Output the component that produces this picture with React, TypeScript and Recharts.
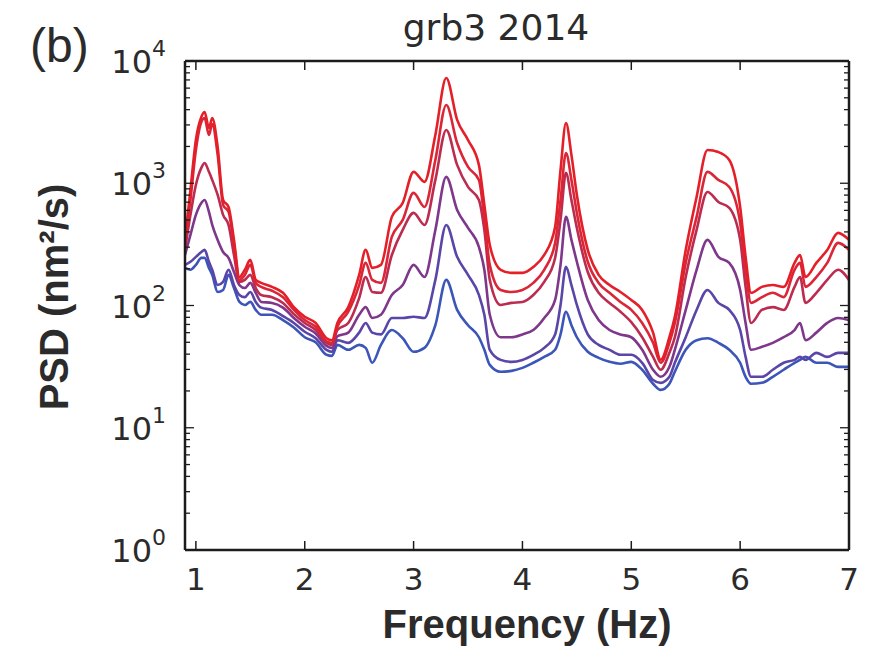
import { LineChart, Line, XAxis, YAxis } from 'recharts';

// frequency grid (Hz)
const freq = [
  0.9, 0.95, 1.0, 1.05, 1.08, 1.12, 1.15, 1.2, 1.25, 1.3, 1.35, 1.4, 1.45, 1.5, 1.55, 1.6, 1.7, 1.8, 1.9, 2.0,
  2.1, 2.2, 2.25, 2.3, 2.4, 2.5, 2.56, 2.62, 2.7, 2.8, 2.9, 3.0, 3.1, 3.2, 3.3, 3.4, 3.5, 3.6, 3.65, 3.7,
  3.8, 3.9, 4.0, 4.1, 4.2, 4.3, 4.35, 4.4, 4.45, 4.5, 4.6, 4.7, 4.8, 4.9, 5.0, 5.1, 5.2, 5.27, 5.35, 5.4,
  5.5, 5.6, 5.7, 5.8, 5.9, 6.0, 6.05, 6.1, 6.2, 6.3, 6.4, 6.5, 6.55, 6.6, 6.7, 6.8, 6.9, 7.0,
];

// PSD curves (nm²/s), top (red) to bottom (blue)
const psd1 = [
  344, 881, 2260, 3485, 3830, 2835, 3420, 1980, 730, 640, 344, 171, 196, 236, 162, 153, 142, 127, 97, 81,
  72, 54, 52, 72, 97, 178, 285, 203, 215, 531, 690, 1240, 1026, 2485, 7260, 3295, 2260, 1413, 665, 313,
  196, 185, 185, 207, 259, 439, 1285, 3115, 1705, 802, 285, 178, 147, 129, 111, 92, 60, 36, 55, 81,
  285, 773, 1870, 1800, 1550, 640, 250, 127, 142, 147, 142, 223, 259, 171, 223, 285, 393, 344,
];
const psd2 = [
  313, 730, 1870, 3170, 3420, 2485, 3055, 1705, 665, 583, 313, 162, 178, 215, 153, 142, 132, 117, 92, 76,
  67, 51, 49.5, 67, 89, 147, 223, 162, 153, 364, 501, 834, 640, 1550, 4365, 2135, 1360, 1065, 521, 215,
  134, 129, 134, 153, 196, 325, 730, 1770, 1065, 572, 228, 153, 127, 107, 92, 72, 49.5, 34, 49.5, 72,
  223, 531, 1240, 1065, 933, 474, 196, 105, 117, 127, 117, 196, 223, 142, 171, 223, 325, 285,
];
const psd3 = [
  285, 551, 969, 1335, 1465, 1240, 1065, 802, 551, 456, 259, 156, 162, 178, 139, 122, 117, 105, 85, 72,
  63, 49.5, 47.6, 63, 72, 115, 171, 129, 127, 259, 415, 572, 456, 1065, 2730, 1413, 933, 730, 415, 162,
  101, 105, 107, 122, 156, 245, 501, 1215, 730, 431, 188, 127, 105, 89, 73, 55, 38, 29.8, 41, 55,
  171, 415, 849, 703, 628, 344, 142, 72, 92, 97, 92, 142, 171, 105, 127, 162, 196, 162,
];
const psd4 = [
  259, 378, 551, 690, 730, 583, 456, 344, 274, 245, 188, 147, 139, 153, 127, 107, 105, 96, 79, 67,
  59, 46.8, 45, 56, 60, 84, 97, 79, 84, 122, 147, 215, 171, 415, 1127, 605, 431, 301, 196, 84,
  55, 55, 58, 63, 79, 111, 215, 531, 344, 228, 111, 76, 63, 58, 55, 43.4, 29.8, 26.1, 31.5, 43.4,
  92, 196, 344, 250, 223, 134, 72, 43.4, 45.9, 49.5, 55, 63, 72, 52, 60, 72, 79, 76,
];
const psd5 = [
  215, 228, 250, 274, 285, 228, 196, 147, 156, 196, 147, 122, 117, 129, 107, 96, 92, 82, 72, 61,
  54, 43.4, 41.8, 52, 49.5, 60, 72, 60, 58, 79, 79, 81, 79, 162, 456, 250, 178, 122, 84, 43.4,
  35.9, 34.6, 35.9, 39.5, 45, 58, 101, 207, 147, 101, 58, 47.6, 43.4, 39.5, 39.5, 34, 24.6, 23.3, 26.1, 34,
  55, 92, 134, 105, 92, 63, 38, 26.1, 26.1, 29.8, 34, 35.9, 38, 35.9, 41, 38, 41, 41,
];
const psd6 = [
  203, 196, 215, 245, 245, 203, 178, 129, 134, 178, 139, 107, 101, 107, 92, 84, 84, 76, 66, 55,
  50, 39.5, 38.7, 47.6, 43.4, 47.6, 45, 34, 47.6, 63, 54, 41.8, 45, 69, 162, 92, 69, 55, 43.4, 32.7,
  28.7, 29.2, 30.9, 34, 38, 43.4, 58, 89, 69, 55, 41.8, 37.3, 34.6, 33.4, 34.6, 29.8, 22.9, 20.4, 22.9, 28.7,
  43.4, 52, 54, 49.5, 43.4, 34, 26.1, 22.9, 23.3, 26.1, 29.8, 34, 35.9, 38, 34, 34, 31.5, 31.5,
];

const seriesKeys = ['s1', 's2', 's3', 's4', 's5', 's6'];
const seriesValues = [psd1, psd2, psd3, psd4, psd5, psd6];
const lineColors = ['#e41f27', '#da2637', '#bb2c50', '#7e378a', '#5a45a8', '#3b55b8'];

const xTicks = [1, 2, 3, 4, 5, 6, 7];
const yDecades = [1, 10, 100, 1000, 10000];
const yMinorSteps = [2, 3, 4, 5, 6, 7, 8, 9];
const yTicks = yDecades.flatMap((d, i) =>
  i < yDecades.length - 1 ? [d, ...yMinorSteps.map((m) => d * m)] : [d]
);

const title = 'grb3 2014';
const panelTag = '(b)';
const xLabel = 'Frequency (Hz)';
const yLabel = 'PSD (nm²/s)';

const rows = freq.map((f, i) => {
  const row: Record<string, number> = { f };
  seriesKeys.forEach((k, j) => {
    row[k] = seriesValues[j][i];
  });
  return row;
});

const AXIS = '#1c1c1c';
const TEXT = '#2b2b2b';
const TICK_FONT = '"DejaVu Sans", sans-serif';
const LABEL_FONT = '"Liberation Sans", Arial, sans-serif';

const isMajor = (v: number) => Math.abs(Math.log10(v) - Math.round(Math.log10(v))) < 1e-9;

function BottomTick({ x, y, payload }: any) {
  return (
    <g>
      <line x1={x} x2={x} y1={y} y2={y - 9} stroke={AXIS} strokeWidth={1.5} />
      <text x={x} y={y + 40} textAnchor="middle" fontSize={31} fill={TEXT} fontFamily={TICK_FONT}>
        {payload.value}
      </text>
    </g>
  );
}

function TopTick({ x, y }: any) {
  return <line x1={x} x2={x} y1={y} y2={y + 9} stroke={AXIS} strokeWidth={1.5} />;
}

function LeftTick({ x, y, payload }: any) {
  const major = isMajor(payload.value);
  return (
    <g>
      <line x1={x} x2={x + (major ? 9 : 5)} y1={y} y2={y} stroke={AXIS} strokeWidth={1.3} />
      {major && (
        <text x={x - 19} y={y + 12} textAnchor="end" fontSize={32} fill={TEXT} fontFamily={TICK_FONT}>
          10
          <tspan dy={-17} fontSize={22}>{Math.round(Math.log10(payload.value))}</tspan>
        </text>
      )}
    </g>
  );
}

function RightTick({ x, y, payload }: any) {
  const major = isMajor(payload.value);
  return <line x1={x} x2={x - (major ? 9 : 5)} y1={y} y2={y} stroke={AXIS} strokeWidth={1.3} />;
}

export default function App() {
  return (
    <div style={{ position: 'absolute', left: 0, top: 0, width: 876, height: 656, background: '#fff' }}>
      <LineChart width={876} height={656} data={rows} margin={{ top: 60, right: 26, bottom: 66, left: 105 }}>
        <XAxis
          dataKey="f"
          type="number"
          domain={[0.9, 7]}
          ticks={xTicks}
          interval={0}
          allowDataOverflow
          height={40}
          tickSize={0}
          tickMargin={0}
          tickLine={false}
          axisLine={{ stroke: AXIS, strokeWidth: 2.5 }}
          tick={(p: any) => <BottomTick {...p} />}
        />
        <XAxis
          xAxisId="top"
          orientation="top"
          dataKey="f"
          type="number"
          domain={[0.9, 7]}
          ticks={xTicks}
          interval={0}
          allowDataOverflow
          height={1}
          tickSize={0}
          tickMargin={0}
          tickLine={false}
          axisLine={{ stroke: AXIS, strokeWidth: 2.5 }}
          tick={(p: any) => <TopTick {...p} />}
        />
        <YAxis
          yAxisId="left"
          type="number"
          scale="log"
          domain={[1, 10000]}
          ticks={yTicks}
          interval={0}
          allowDataOverflow
          width={80}
          tickSize={0}
          tickMargin={0}
          tickLine={false}
          axisLine={{ stroke: AXIS, strokeWidth: 2.5 }}
          tick={(p: any) => <LeftTick {...p} />}
        />
        <YAxis
          yAxisId="right"
          orientation="right"
          type="number"
          scale="log"
          domain={[1, 10000]}
          ticks={yTicks}
          interval={0}
          allowDataOverflow
          width={1}
          tickSize={0}
          tickMargin={0}
          tickLine={false}
          axisLine={{ stroke: AXIS, strokeWidth: 2.5 }}
          tick={(p: any) => <RightTick {...p} />}
        />
        {/* invisible series so the top/right frame axes get drawn */}
        <Line
          xAxisId="top"
          yAxisId="right"
          dataKey="s6"
          stroke="none"
          dot={false}
          activeDot={false}
          isAnimationActive={false}
        />
        {seriesKeys
          .map((k, i) => (
            <Line
              key={k}
              yAxisId="left"
              type="monotone"
              dataKey={k}
              stroke={lineColors[i]}
              strokeWidth={2.6}
              dot={false}
              isAnimationActive={false}
            />
          ))
          .reverse()}
      </LineChart>
      <svg
        width={876}
        height={656}
        style={{ position: 'absolute', left: 0, top: 0, pointerEvents: 'none' }}
      >
        <text x={30} y={62} fontSize={48} fill={TEXT} fontFamily={LABEL_FONT}>
          {panelTag}
        </text>
        <text x={496} y={40} textAnchor="middle" fontSize={36} fill={TEXT} fontFamily={TICK_FONT}>
          {title}
        </text>
        <text x={527} y={638} textAnchor="middle" fontSize={40} fontWeight="bold" fill={TEXT} fontFamily={LABEL_FONT}>
          {xLabel}
        </text>
        <text
          transform="translate(68,297) rotate(-90)"
          textAnchor="middle"
          fontSize={40}
          fontWeight="bold"
          fill={TEXT}
          fontFamily={LABEL_FONT}
        >
          {yLabel}
        </text>
      </svg>
    </div>
  );
}
